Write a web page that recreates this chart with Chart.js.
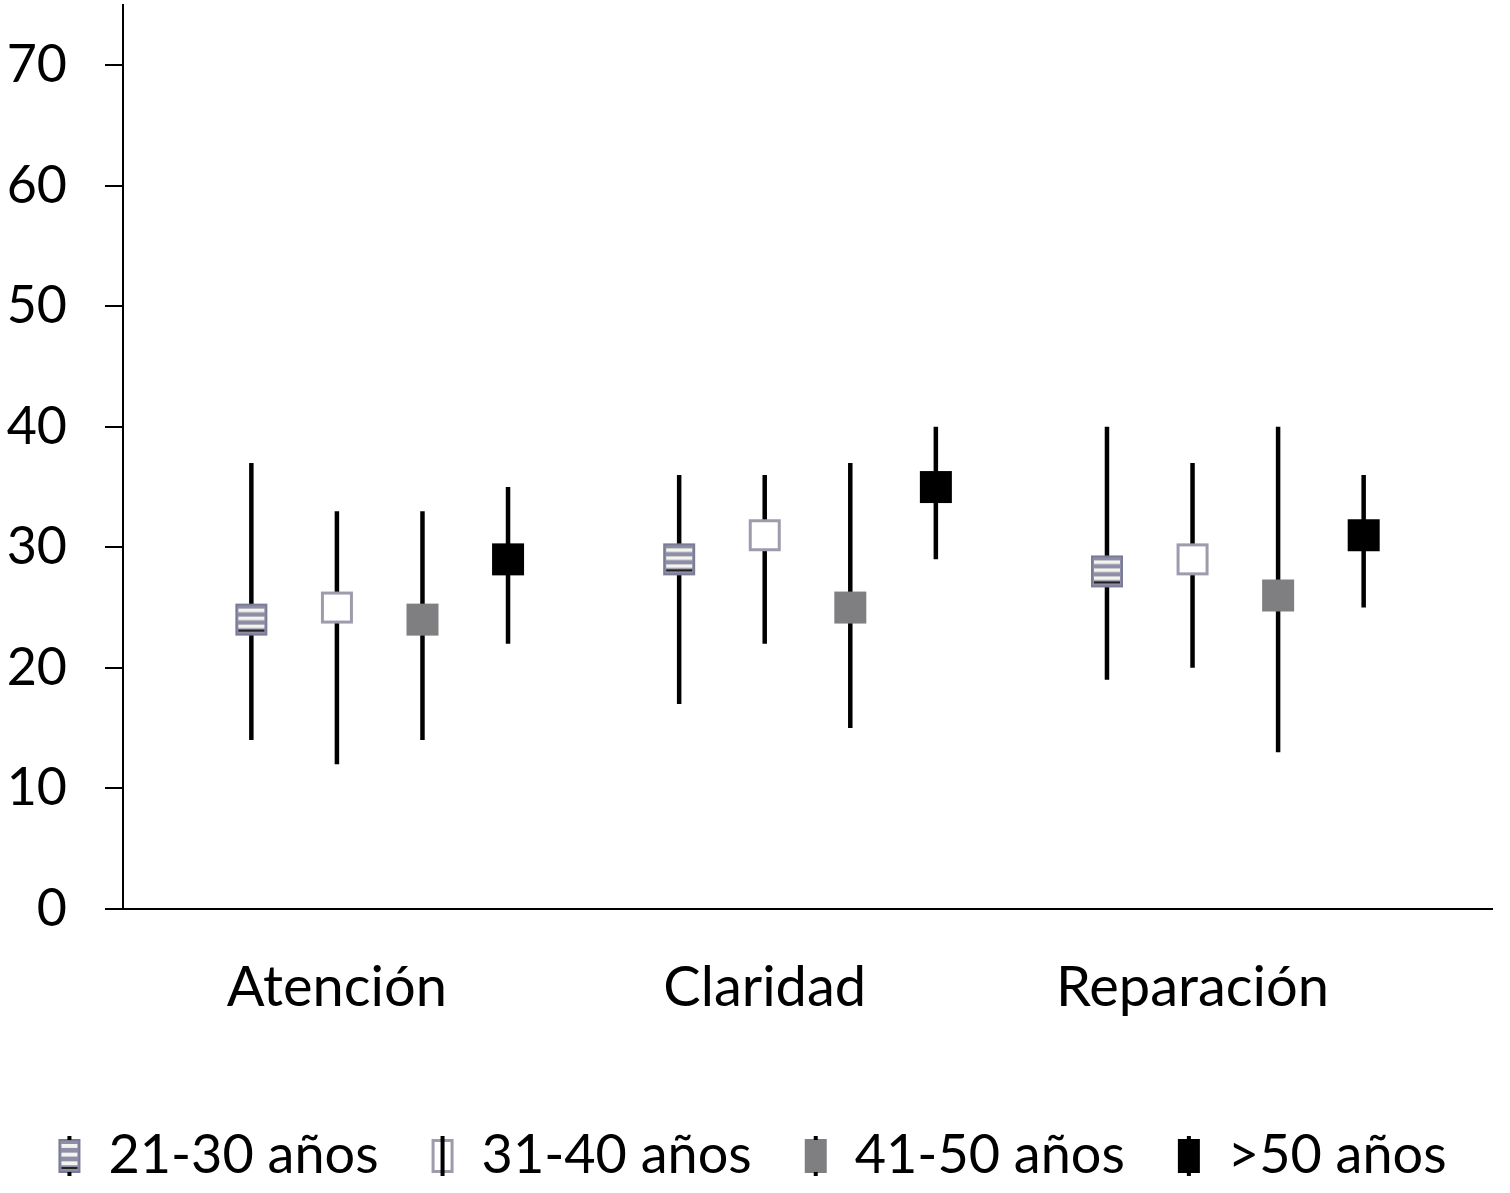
<!DOCTYPE html>
<html lang="es">
<head>
  <meta charset="UTF-8" />
  <title>Atención, Claridad, Reparación por edad</title>
  <script src="https://cdn.jsdelivr.net/npm/chart.js"></script>
  <style>
    html, body { margin: 0; padding: 0; background: #fff; }
    #wrap { width: 1510px; height: 1193px; overflow: hidden; }
    #inner { width: 1510px; height: 1206px; margin-top: -13px; }
  </style>
</head>
<body>
  <div id="wrap"><div id="inner"><canvas id="chart"></canvas></div></div>
  <script>
    // data
    const categories = ["Atención", "Claridad", "Reparación"];
    const groups = ["21-30 años", "31-40 años", "41-50 años", ">50 años"];

    const mean21 = [24, 29, 28];
    const low21  = [14, 17, 19];
    const high21 = [37, 36, 40];

    const mean31 = [25, 31, 29];
    const low31  = [12, 22, 20];
    const high31 = [33, 36, 37];

    const mean41 = [24, 25, 26];
    const low41  = [14, 15, 13];
    const high41 = [33, 37, 40];

    const mean50 = [29, 35, 31];
    const low50  = [22, 29, 25];
    const high50 = [35, 40, 36];

    const yTicks = [0, 10, 20, 30, 40, 50, 60, 70];

    const means = [mean21, mean31, mean41, mean50];
    const lows = [low21, low31, low41, low50];
    const highs = [high21, high31, high41, high50];

    const FONT = "Lato";

    // marker drawing
    function makeMarker(kind, w, h, legend) {
      const c = document.createElement("canvas");
      c.width = w; c.height = h;
      const g = c.getContext("2d");
      const bx = 1, by = legend ? 3 : 1;
      const bw = w - 2, bh = legend ? h - 6 : h - 2;
      if (kind === 0) {
        g.fillStyle = "#8e8ea8";
        g.fillRect(bx, by, bw, bh);
        g.fillStyle = "#f4f4ec";
        const n = 3;
        for (let i = 0; i < n; i++) {
          g.fillRect(bx + 3, by + 5 + i * (bh - 8) / n, bw - 6, (bh - 8) / n * 0.45);
        }
        g.fillStyle = "#222";
        g.fillRect(bx + 3, by + bh - 6, bw - 6, 2);
        g.strokeStyle = "#7b7b95";
        g.lineWidth = 2;
        g.strokeRect(bx + 1, by + 1, bw - 2, bh - 2);
      } else if (kind === 1) {
        g.fillStyle = "#fff";
        g.fillRect(bx, by, bw, bh);
        g.strokeStyle = "#9c9cac";
        g.lineWidth = 3;
        g.strokeRect(bx + 1.5, by + 1.5, bw - 3, bh - 3);
        if (legend) {
          g.fillStyle = "#000";
          g.fillRect(w / 2 - 2, 0, 4, h);
        }
      } else if (kind === 2) {
        g.fillStyle = "#7f7f82";
        g.fillRect(bx, by, bw, bh);
      } else {
        g.fillStyle = "#000";
        g.fillRect(bx, by, bw, bh);
      }
      if (legend && kind !== 1) {
        g.fillStyle = "#000";
        g.fillRect(w / 2 - 2, 0, 4, 4);
        g.fillRect(w / 2 - 2, h - 4, 4, 4);
      }
      return c;
    }

    const markers = [0, 1, 2, 3].map(k => makeMarker(k, 34, 34, false));
    const legendIcons = [0, 1, 2, 3].map(k => makeMarker(k, 24, 40, true));

    // each group sits at slot c*5 + g along a linear x axis
    const datasets = groups.map((name, g) => ({
      label: name,
      data: categories.map((cat, c) => ({ x: c * 5 + g, y: means[g][c] })),
      showLine: false,
      pointStyle: markers[g],
      pointRadius: 17,
      pointHoverRadius: 17
    }));

    const errorBars = {
      id: "errorBars",
      beforeDatasetsDraw(chart) {
        const ctx = chart.ctx;
        const xs = chart.scales.x, ys = chart.scales.y;
        ctx.save();
        ctx.strokeStyle = "#000";
        ctx.lineWidth = 4.5;
        groups.forEach((name, g) => {
          categories.forEach((cat, c) => {
            const px = xs.getPixelForValue(c * 5 + g);
            ctx.beginPath();
            ctx.moveTo(px, ys.getPixelForValue(lows[g][c]));
            ctx.lineTo(px, ys.getPixelForValue(highs[g][c]));
            ctx.stroke();
          });
        });
        ctx.restore();
      }
    };

    new Chart(document.getElementById("chart"), {
      type: "scatter",
      data: { datasets: datasets },
      plugins: [errorBars],
      options: {
        responsive: true,
        maintainAspectRatio: false,
        animation: false,
        layout: { padding: { top: 0, right: 10, left: 4, bottom: 0 } },
        scales: {
          x: {
            type: "linear",
            min: -1.5,
            max: 14.5,
            afterBuildTicks: s => { s.ticks = categories.map((c, i) => ({ value: i * 5 + 1 })); },
            afterFit: s => { s.height += 17; },
            ticks: {
              callback: (v, i) => categories[i],
              color: "#000",
              font: { family: FONT, size: 56 },
              padding: 38,
              maxRotation: 0,
              autoSkip: false
            },
            grid: { display: false },
            border: { display: true, color: "#000", width: 2 }
          },
          y: {
            min: 0,
            max: 75,
            afterBuildTicks: s => { s.ticks = yTicks.map(v => ({ value: v })); },
            afterFit: s => { s.width = 119; s.paddingTop = 0; s.paddingBottom = 0; },
            ticks: {
              color: "#000",
              font: { family: FONT, size: 52 },
              padding: 38
            },
            grid: {
              drawOnChartArea: false,
              drawTicks: true,
              tickLength: 18,
              color: "#000",
              lineWidth: 2
            },
            border: { display: true, color: "#000", width: 2 }
          }
        },
        plugins: {
          tooltip: { enabled: false },
          legend: {
            position: "bottom",
            labels: {
              usePointStyle: true,
              boxWidth: 24,
              color: "#000",
              font: { family: FONT, size: 54 },
              padding: 52,
              generateLabels: chart => groups.map((name, g) => ({
                text: name,
                pointStyle: legendIcons[g],
                datasetIndex: g,
                hidden: false,
                fontColor: "#000"
              }))
            }
          }
        }
      }
    });
  </script>
</body>
</html>
